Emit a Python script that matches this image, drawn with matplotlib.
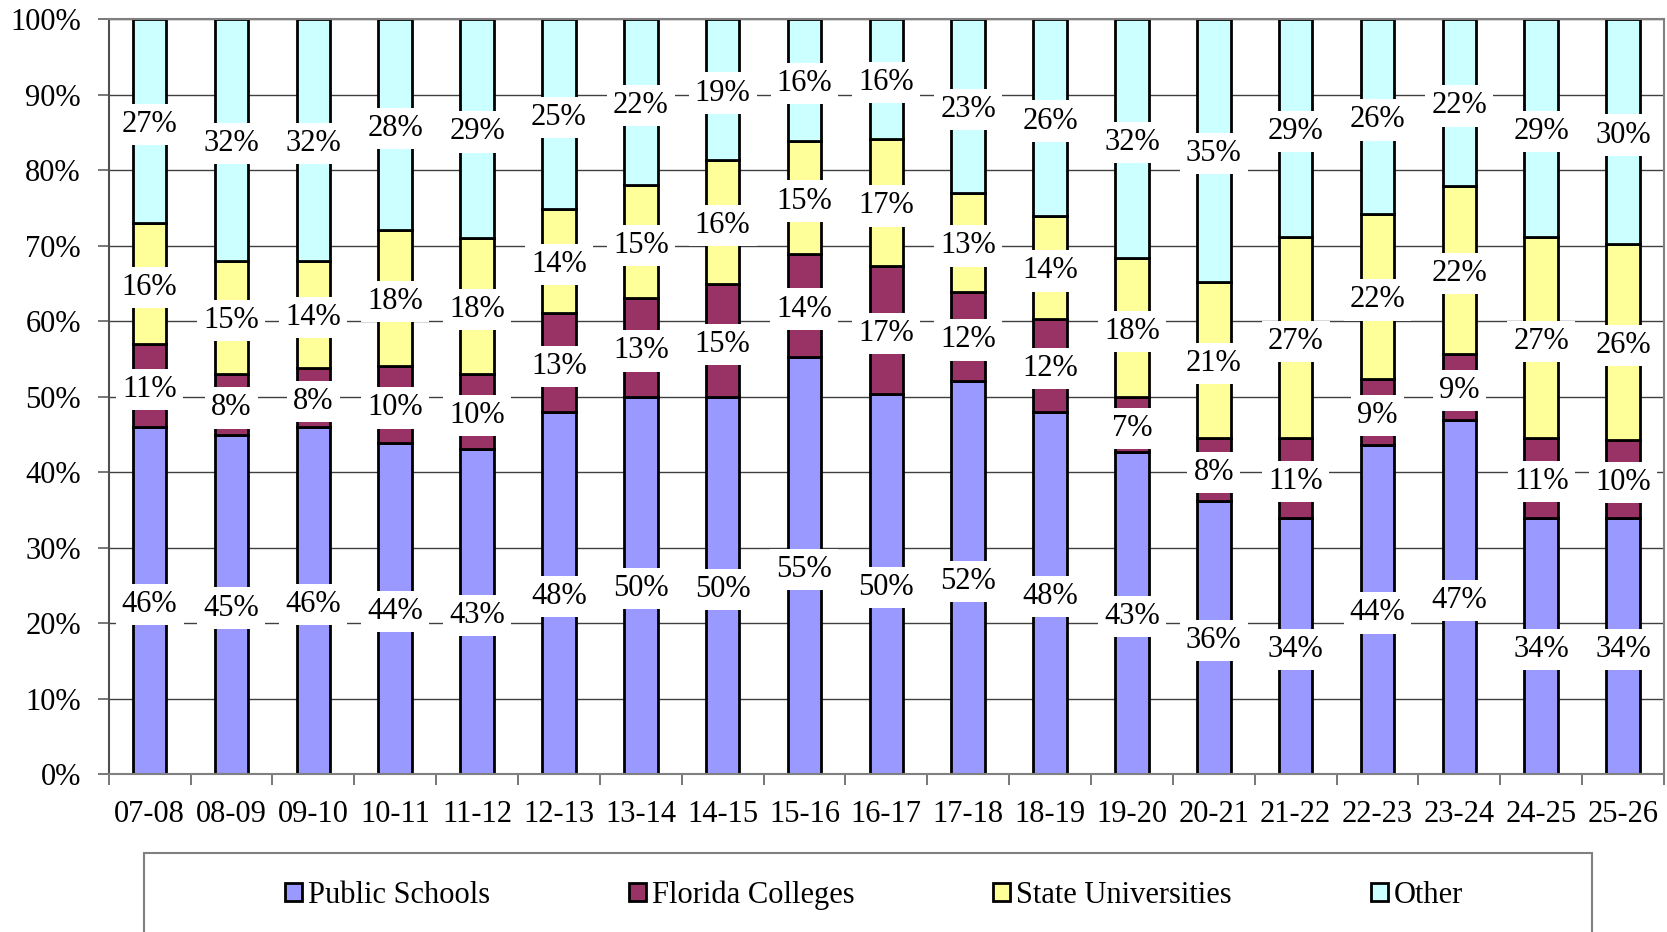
import numpy as np
import matplotlib.pyplot as plt
import matplotlib.patches as patches

years = ["07-08", "08-09", "09-10", "10-11", "11-12", "12-13", "13-14", "14-15", "15-16", "16-17",
         "17-18", "18-19", "19-20", "20-21", "21-22", "22-23", "23-24", "24-25", "25-26"]

# percent of total, per year
public_schools = [45.9, 44.9, 45.9, 43.9, 43.0, 47.9, 50.0, 49.9, 55.2, 50.3,
                  52.0, 48.0, 42.6, 36.2, 33.9, 43.6, 46.9, 33.9, 33.9]
florida_colleges = [11.0, 8.1, 7.9, 10.1, 10.0, 13.1, 13.0, 15.0, 13.7, 17.0,
                    11.9, 12.3, 7.3, 8.3, 10.6, 8.7, 8.7, 10.6, 10.4]
state_universities = [16.1, 15.0, 14.2, 18.0, 18.0, 13.9, 15.0, 16.4, 14.9, 16.8,
                      13.0, 13.6, 18.4, 20.7, 26.6, 21.9, 22.3, 26.6, 25.9]
other = [27.0, 32.0, 32.0, 28.0, 29.0, 25.1, 22.0, 18.7, 16.2, 15.9,
         23.1, 26.1, 31.7, 34.8, 28.9, 25.8, 22.1, 28.9, 29.8]

series = [("Public Schools", public_schools, "#9999FF"),
          ("Florida Colleges", florida_colleges, "#993366"),
          ("State Universities", state_universities, "#FFFF99"),
          ("Other", other, "#CCFFFF")]

plt.rcParams['font.family'] = ['Liberation Serif', 'DejaVu Serif']
FS = 22

fig = plt.figure(figsize=(16.67, 9.32), dpi=100)
ax = fig.add_axes([0.0652, 0.1695, 0.9330, 0.8101])

x = np.arange(len(years))
bottom = np.zeros(len(years))
handles = []
for name, vals, col in series:
    vals = np.array(vals)
    b = ax.bar(x, vals, 0.41, bottom=bottom, color=col, edgecolor="black",
               linewidth=2, zorder=2, label=name)
    handles.append(b)
    for xi, v, b0 in zip(x, vals, bottom):
        ax.text(xi, b0 + v / 2, "%d%%" % round(v), ha="center", va="center_baseline",
                fontsize=FS, zorder=4,
                bbox=dict(boxstyle="square,pad=0.2", facecolor="white", edgecolor="none"))
    bottom += vals

ax.set_xlim(-0.5, len(years) - 0.5)
ax.set_ylim(0, 100)
ax.set_yticks(np.arange(0, 101, 10))
ax.set_yticklabels(["%d%%" % v for v in range(0, 101, 10)], fontsize=FS)
ax.yaxis.grid(True, color="#404040", linewidth=1.0, zorder=0)
ax.set_axisbelow(True)

# tick marks between categories, labels at centres
ax.set_xticks(np.arange(len(years) + 1) - 0.5)
ax.set_xticklabels([])
ax.set_xticks(x, minor=True)
ax.set_xticklabels(years, minor=True, fontsize=FS)
ax.tick_params(axis="x", which="major", length=8, width=1.2, color="#606060", direction="out")
ax.tick_params(axis="x", which="minor", length=0, pad=19)
ax.tick_params(axis="y", length=8, width=1.2, color="#606060", direction="out", pad=12)

for s in ax.spines.values():
    s.set_color("#808080")
    s.set_linewidth(1.5)
ax.spines["left"].set_color("#505050")

# legend box (runs off the bottom of the figure)
box = patches.Rectangle((143.5 / 1667, -0.05), (1592 - 143.5) / 1667, 0.05 + (932 - 852.5) / 932,
                        transform=fig.transFigure, facecolor="white", edgecolor="#808080",
                        linewidth=1.5, clip_on=False)
fig.patches.append(box)
fig.legend(handles=handles, loc="center", bbox_to_anchor=(874 / 1667, 1 - 895 / 932),
           ncol=4, frameon=False, fontsize=FS, handlelength=0.55, handleheight=0.55,
           handletextpad=0.2, columnspacing=4.55)

fig.savefig("out.png", dpi=100)
